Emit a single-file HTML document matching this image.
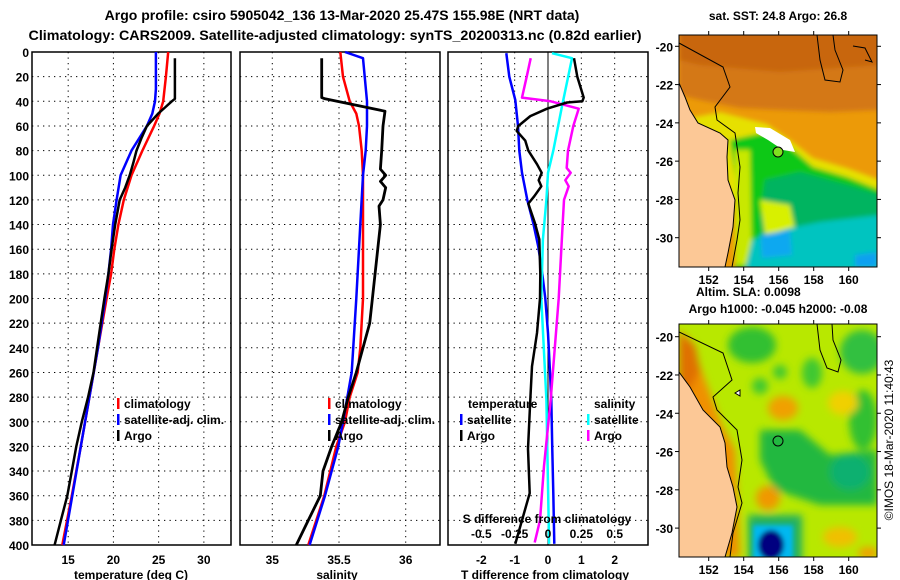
<!DOCTYPE html>
<html><head><meta charset="utf-8"><title>Argo profile</title>
<style>
html,body{margin:0;padding:0;background:#fff;}
svg{display:block;font-family:"Liberation Sans",sans-serif;font-weight:bold;}
</style></head>
<body>
<svg id="fig" width="900" height="580" viewBox="0 0 900 580" xmlns="http://www.w3.org/2000/svg">
<defs>
<filter id="blur2" x="-10%" y="-10%" width="120%" height="120%"><feGaussianBlur stdDeviation="2.5"/></filter>
<filter id="blur4" x="-20%" y="-20%" width="140%" height="140%"><feGaussianBlur stdDeviation="4"/></filter>
<clipPath id="clipTop"><rect x="679" y="35" width="198" height="232"/></clipPath>
<clipPath id="clipBot"><rect x="679" y="324" width="198" height="233"/></clipPath>
</defs>
<text x="342" y="20" font-size="14" text-anchor="middle">Argo profile: csiro 5905042_136 13-Mar-2020 25.47S 155.98E (NRT data)</text>
<text x="335" y="40" font-size="14" text-anchor="middle" textLength="613" lengthAdjust="spacingAndGlyphs">Climatology: CARS2009. Satellite-adjusted climatology: synTS_20200313.nc (0.82d earlier)</text>
<g id="panels"></g>

<!-- TOP MAP -->
<g>
<text x="778" y="20" font-size="12" text-anchor="middle">sat. SST: 24.8 Argo: 26.8</text>
<g clip-path="url(#clipTop)">
<rect x="679" y="35" width="198" height="232" fill="#ec9a08"/>
<g filter="url(#blur2)">
<polygon points="679,30 880,30 880,110 830,112 780,110 740,108 700,100 679,95" fill="#d47816"/>
<polygon points="679,30 880,30 880,65 780,72 700,65 679,60" fill="#c8660e"/>
<polygon points="720,112 767,124 790,140 813,158 847,168 880,180 880,200 679,200 679,120 700,116" fill="#e6e000"/>
<polygon points="730,140 767,132 790,147 813,167 847,177 880,190 880,270 735,270 738,200" fill="#10c818"/>
<polygon points="765,180 800,172 847,185 880,195 880,270 765,270 760,220" fill="#00b460"/>
<polygon points="760,200 790,205 795,230 765,235" fill="#d8f000"/>
<polygon points="735,150 750,150 752,265 735,265" fill="#c8e800"/>
<polygon points="745,270 752,240 790,228 820,222 880,215 880,270" fill="#00c4c0"/>
<polygon points="760,235 790,230 792,255 762,258" fill="#10a8f0"/>
<polygon points="855,255 877,252 877,267 855,267" fill="#10a0f0"/>
</g>
<polygon points="755,127 770,128 790,140 795,152 783,150 768,140 756,133" fill="#ffffff"/>
<polygon points="679,83 685,97 690,110 698,123 720,133 728,140 727,157 728,180 735,200 733,227 728,253 725,267 679,267" fill="#fcc896"/>
<polyline points="679,83 685,97 690,110 698,123 720,133 728,140 727,157 728,180 735,200 733,227 728,253 725,267" fill="none" stroke="#000" stroke-width="1"/>
<polyline points="679,43 723,67 730,87 715,107 717,120 735,133 740,167 738,193 740,220 737,240 732,267" fill="none" stroke="#000" stroke-width="1"/>
<polyline points="817,35 820,60 825,80 840,82 843,70 835,50 833,35" fill="none" stroke="#000" stroke-width="1"/>
<polyline points="853,46 865,48 870,58 872,62 865,60" fill="none" stroke="#000" stroke-width="1"/>
<circle cx="778" cy="152" r="5" fill="#80e020" stroke="#000" stroke-width="1"/>
</g>
<rect x="679" y="35" width="198" height="232" fill="none" stroke="#000" stroke-width="1"/>
<g id="topMapAxes"></g>
<text x="696" y="296" font-size="12">Altim. SLA: 0.0098</text>
</g>

<!-- BOTTOM MAP -->
<g>
<text x="778" y="313" font-size="12" text-anchor="middle">Argo h1000: -0.045 h2000: -0.08</text>
<g clip-path="url(#clipBot)">
<rect x="679" y="324" width="198" height="233" fill="#b8e800"/>
<g filter="url(#blur4)">
<ellipse cx="752" cy="345" rx="24" ry="18" fill="#30c030"/>
<ellipse cx="780" cy="372" rx="7" ry="7" fill="#40c830"/>
<ellipse cx="760" cy="386" rx="8" ry="8" fill="#40c830"/>
<ellipse cx="812" cy="373" rx="10" ry="15" fill="#40c830"/>
<ellipse cx="862" cy="352" rx="22" ry="22" fill="#30c040"/>
<ellipse cx="863" cy="420" rx="14" ry="30" fill="#30c030"/>
<polygon points="760,430 800,430 830,455 877,450 877,505 820,505 775,490 760,460" fill="#20b840"/>
<ellipse cx="850" cy="472" rx="20" ry="18" fill="#10b070"/>
<ellipse cx="783" cy="408" rx="15" ry="12" fill="#f0a000"/>
<ellipse cx="768" cy="498" rx="12" ry="12" fill="#f09800"/>
<ellipse cx="843" cy="403" rx="15" ry="12" fill="#f0d000"/>
<ellipse cx="840" cy="537" rx="17" ry="10" fill="#f0c000"/>
<ellipse cx="868" cy="553" rx="10" ry="6" fill="#f0a000"/>
<polygon points="679,330 690,340 705,380 722,425 735,450 740,557 725,557 679,557" fill="#f09000"/>
<polygon points="679,332 695,345 700,370 690,390 679,390" fill="#e07000"/>
<rect x="748" y="515" width="54" height="50" fill="#20b060"/>
</g>
<g filter="url(#blur2)">
<rect x="753" y="525" width="40" height="40" fill="#00b8f0"/>
<ellipse cx="771" cy="545" rx="13" ry="15" fill="#000080"/>
</g>
<polygon points="679,372 690,387 703,410 720,427 725,443 727,467 733,487 737,507 732,533 725,557 679,557" fill="#fcc896"/>
<polyline points="679,372 690,387 703,410 720,427 725,443 727,467 733,487 737,507 732,533 725,557" fill="none" stroke="#000" stroke-width="1"/>
<polyline points="679,332 723,353 732,380 713,397 717,410 737,430 742,460 738,487 742,503 733,533 730,557" fill="none" stroke="#000" stroke-width="1"/>
<polyline points="817,324 820,350 827,368 838,372 841,360 833,340 832,324" fill="none" stroke="#000" stroke-width="1"/>
<polygon points="735,393 740,390 740,396" fill="#fff" stroke="#000" stroke-width="1"/>
<circle cx="778" cy="441" r="5" fill="none" stroke="#000" stroke-width="1"/>
</g>
<rect x="679" y="324" width="198" height="233" fill="none" stroke="#000" stroke-width="1"/>
<g id="botMapAxes"></g>
</g>
<text transform="translate(893,440) rotate(-90)" font-size="12" font-weight="normal" text-anchor="middle">©IMOS 18-Mar-2020 11:40:43</text>
</svg>

<script>
// ===== Panel 1: temperature =====
const tClimDepth = [0,20,40,50,60,80,100,120,140,160,180,200,240,280,320,360,400];
const tClimVal   = [26.06,25.8,25.5,25.1,24.5,23.2,22.0,21.15,20.55,20.1,19.75,19.25,18.3,17.35,16.4,15.4,14.35];
const tSatDepth  = [0,30,40,50,60,80,100,120,140,160,180,200,240,280,320,360,400];
const tSatVal    = [24.7,24.7,24.6,24.3,23.7,22.0,20.8,20.35,19.95,19.75,19.45,19.1,18.3,17.35,16.4,15.45,14.5];
const tArgoDepth = [5,38,40,45,50,60,70,80,90,100,110,120,140,160,180,200,220,240,260,280,300,320,340,360,380,400];
const tArgoVal   = [26.8,26.8,26.45,25.7,24.95,23.7,23.1,22.55,22.2,21.8,21.3,20.7,20.2,19.8,19.45,19.0,18.6,18.2,17.8,17.2,16.5,15.9,15.4,14.9,14.2,13.5];
const tTicks = [15,20,25,30];
// ===== Panel 2: salinity =====
const sClimDepth = [0,20,40,50,60,80,100,200,240,260,280,300,320,360,400];
const sClimVal   = [35.51,35.53,35.58,35.63,35.65,35.67,35.68,35.68,35.66,35.64,35.58,35.545,35.48,35.39,35.27];
const sSatDepth  = [0,5,40,60,80,100,140,200,260,300,320,360,400];
const sSatVal    = [35.545,35.68,35.71,35.71,35.70,35.68,35.66,35.63,35.595,35.53,35.495,35.395,35.28];
const sArgoDepth = [5,37,38,48,60,80,95,100,105,110,120,125,140,200,220,240,260,280,300,320,340,360,380,400];
const sArgoVal   = [35.37,35.37,35.395,35.845,35.83,35.82,35.81,35.85,35.81,35.85,35.83,35.80,35.81,35.75,35.73,35.68,35.63,35.57,35.52,35.445,35.38,35.36,35.27,35.18];
const sTicks = [35,35.5,36];
const sTickLabels = ["35","35.5","36"];
// ===== Panel 3: differences =====
const dTSatDepth  = [1,20,39,60,80,98,120,139,158,180,200,228,255,282,323,358,399];
const dTSatVal    = [-1.25,-1.16,-0.98,-0.90,-0.86,-0.78,-0.62,-0.44,-0.29,-0.17,-0.08,0.0,0.05,0.1,0.13,0.16,0.19];
const dTArgoDepth = [5,20,37,40,41,46,52,60,64,72,80,91,98,104,109,117,123,139,152,180,200,228,255,282,322,358,380,399];
const dTArgoVal   = [0.78,0.88,1.07,1.03,0.57,-0.03,-0.53,-0.89,-0.94,-0.68,-0.59,-0.33,-0.19,-0.28,-0.2,-0.41,-0.59,-0.39,-0.26,-0.23,-0.24,-0.33,-0.48,-0.53,-0.6,-0.55,-0.78,-0.98];
const dSSatDepth  = [1,5,44,80,98,120,152,200,282,399];
const dSSatVal    = [0.03,0.18,0.105,0.04,0,-0.012,-0.038,-0.05,-0.012,0.008];
const dSArgoDepth = [5,20,37,40,46,60,80,94,98,104,109,120,139,200,282,336,380,398];
const dSArgoVal   = [-0.13,-0.16,-0.195,0.02,0.23,0.19,0.15,0.14,0.17,0.13,0.155,0.12,0.11,0.08,0.02,-0.03,-0.06,-0.1];
const dTTicks = [-2,-1,0,1,2];
const dSTicks = [-0.5,-0.25,0,0.25,0.5];
const dSTickLabels = ["-0.5","-0.25","0","0.25","0.5"];
const depthTicks = [0,20,40,60,80,100,120,140,160,180,200,220,240,260,280,300,320,340,360,380,400];
// ===== Maps =====
const lonTicks = [152,154,156,158,160];
const latTicks = [-20,-22,-24,-26,-28,-30];

const NS = "http://www.w3.org/2000/svg";
const root = document.getElementById('panels');
function mk(tag, attrs, parent){
  const e = document.createElementNS(NS, tag);
  for (const k in attrs) e.setAttribute(k, attrs[k]);
  (parent||root).appendChild(e);
  return e;
}
const Y0 = 52, Y1 = 545;
function yD(d){ return Y0 + (d/400)*(Y1-Y0); }
function makeX(x0,x1,min,max){ return v => x0 + (v-min)/(max-min)*(x1-x0); }
const xT = makeX(32,231,11,33);
const xS = makeX(240,440,34.758,36.257);
const xD = makeX(448,648,-3,3);
const xDS = v => xD(v*4);

function panelFrame(x0,x1,ticks,xf,labels,title,titleX,name){
  const g = mk('g',{});
  
  
  depthTicks.slice(1,-1).forEach(d=>{
    const l = mk('line',{x1:x0,x2:x1,y1:yD(d),y2:yD(d),stroke:'#000','stroke-width':1,'stroke-dasharray':'1.3,4.2'},g);
    
    
  });
  ticks.forEach((t,i)=>{
    const l = mk('line',{x1:xf(t),x2:xf(t),y1:Y0,y2:Y1,stroke:'#000','stroke-width':1,'stroke-dasharray':'1.3,4.2'},g);
    
    
    const tx = mk('text',{x:xf(t),y:564,'font-size':12,'text-anchor':'middle'},g);
    tx.textContent = labels ? labels[i] : String(t);
    
    
  });
  const r = mk('rect',{x:x0,y:Y0,width:x1-x0,height:Y1-Y0,fill:'none',stroke:'#000','stroke-width':1.5},g);
  
  
  const tt = mk('text',{x:titleX,y:579,'font-size':12,'text-anchor':'middle'},g);
  tt.textContent = title;
  
  
  return g;
}
function series(depths, vals, xf, color, w, name){
  const pts = depths.map((d,i)=> xf(vals[i]).toFixed(1)+','+yD(d).toFixed(1)).join(' ');
  const p = mk('polyline',{points:pts,fill:'none',stroke:color,'stroke-width':w,'stroke-linejoin':'round'});
  
  
}
function legendEntry(x,y,color,label,name){
  const g = mk('g',{});
  
  
  mk('rect',{x:x,y:y-7,width:2.5,height:11,fill:color},g);
  const t = mk('text',{x:x+7,y:y+3,'font-size':12},g);
  t.textContent = label;
}

// Panel 1
panelFrame(32,231,tTicks,xT,null,'temperature (deg C)',131,'temperature-panel');
depthTicks.forEach(d=>{
  const t = mk('text',{x:29,y:yD(d)+5,'font-size':12,'text-anchor':'end'});
  t.textContent = d;
  
  
});
series(tClimDepth,tClimVal,xT,'#ff0000',2.5,'temperature-climatology-line');
series(tSatDepth,tSatVal,xT,'#0000ff',2.5,'temperature-satellite-line');
series(tArgoDepth,tArgoVal,xT,'#000000',2.5,'temperature-argo-line');
legendEntry(117,405,'#ff0000','climatology','legend-climatology');
legendEntry(117,421,'#0000ff','satellite-adj. clim.','legend-satellite-adj');
legendEntry(117,437,'#000000','Argo','legend-argo');

// Panel 2
panelFrame(240,440,sTicks,xS,sTickLabels,'salinity',337,'salinity-panel');
series(sClimDepth,sClimVal,xS,'#ff0000',2.5,'salinity-climatology-line');
series(sSatDepth,sSatVal,xS,'#0000ff',2.5,'salinity-satellite-line');
series(sArgoDepth,sArgoVal,xS,'#000000',2.8,'salinity-argo-line');
legendEntry(328,405,'#ff0000','climatology','legend-climatology-2');
legendEntry(328,421,'#0000ff','satellite-adj. clim.','legend-satellite-adj-2');
legendEntry(328,437,'#000000','Argo','legend-argo-2');

// Panel 3
panelFrame(448,648,dTTicks,xD,null,'T difference from climatology',545,'difference-panel');
(function(){
  const z = mk('line',{x1:xD(0),x2:xD(0),y1:Y0,y2:Y1,stroke:'#000','stroke-width':1});
  
  
})();
series(dTSatDepth,dTSatVal,xD,'#0000ff',2.5,'tdiff-satellite-line');
series(dSSatDepth,dSSatVal,xDS,'#00ffff',2.5,'sdiff-satellite-line');
series(dSArgoDepth,dSArgoVal,xDS,'#ff00ff',2.5,'sdiff-argo-line');
series(dTArgoDepth,dTArgoVal,xD,'#000000',2.5,'tdiff-argo-line');
(function(){
  const t1 = mk('text',{x:468,y:408,'font-size':12});
  t1.textContent='temperature';
  
  
  const t2 = mk('text',{x:594,y:408,'font-size':12});
  t2.textContent='salinity';
  
  
})();
legendEntry(460,421,'#0000ff','satellite','legend-t-satellite');
legendEntry(460,437,'#000000','Argo','legend-t-argo');
legendEntry(587,421,'#00ffff','satellite','legend-s-satellite');
legendEntry(587,437,'#ff00ff','Argo','legend-s-argo');
(function(){
  const t = mk('text',{x:547,y:523,'font-size':12,'text-anchor':'middle'});
  t.textContent='S difference from climatology';
  
  
  dSTicks.forEach((v,i)=>{
    const l = mk('text',{x:xDS(v),y:538,'font-size':12,'text-anchor':'middle'});
    l.textContent = dSTickLabels[i];
    
    
  });
})();

// Map axes
function mapAxes(gid, top, bottom, latTopY, latStep){
  const g = document.getElementById(gid);
  const lonX = lon => 708.7 + (lon-152)*17.5;
  const latY = lat => latTopY + (-20-lat)*latStep;
  lonTicks.forEach(lon=>{
    mk('line',{x1:lonX(lon),x2:lonX(lon),y1:top-4,y2:top,stroke:'#000'},g);
    mk('line',{x1:lonX(lon),x2:lonX(lon),y1:bottom,y2:bottom+4,stroke:'#000'},g);
    const t = mk('text',{x:lonX(lon),y:bottom+17,'font-size':12,'text-anchor':'middle'},g);
    t.textContent = lon;
    
    
  });
  latTicks.forEach(lat=>{
    mk('line',{x1:675,x2:679,y1:latY(lat),y2:latY(lat),stroke:'#000'},g);
    mk('line',{x1:877,x2:881,y1:latY(lat),y2:latY(lat),stroke:'#000'},g);
    const t = mk('text',{x:673,y:latY(lat)+5,'font-size':12,'text-anchor':'end'},g);
    t.textContent = lat;
    
    
  });
}
mapAxes('topMapAxes',35,267,46.3,19.14);
mapAxes('botMapAxes',324,557,336.7,19.14);
</script>
</body></html>
